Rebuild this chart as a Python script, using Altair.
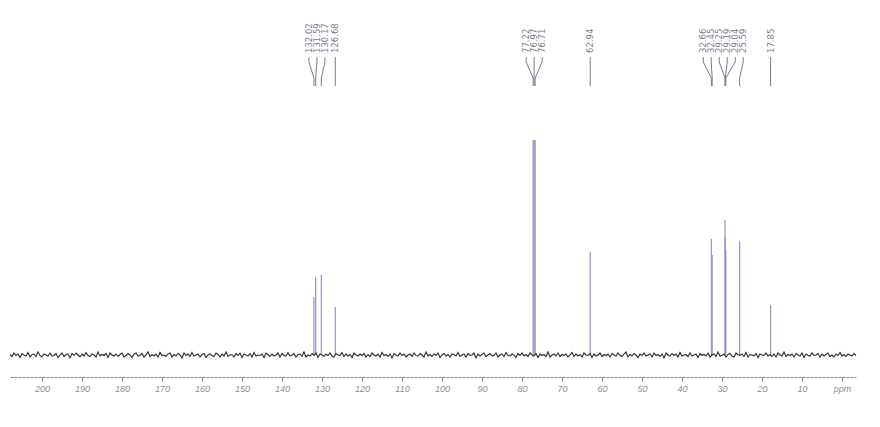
import altair as alt
import numpy as np
import pandas as pd

# ---- data ----
peak_ppm = [132.02, 131.59, 130.17, 126.68, 77.22, 76.97, 76.71, 62.94,
            32.66, 32.45, 29.25, 29.19, 29.04, 25.59, 17.85]
peak_height = [58, 78, 80, 48, 215, 215, 215, 103,
               116, 100, 135, 118, 105, 114, 50]

noise = [
    0.5, -1.5, 2, -0.5, 1, -2.5, 1.5, 0, -1, 2.5, -2, 0.5, 1, -1.5, 3, -0.5, -2, 1, 0, -1,
    2, -1, -0.5, 1.5, -2.5, 0, 2, -1.5, 0.5, 1, -3, 1.5, -0.5, 2, 0, -2, 1, -1, 2.5, -0.5,
    -1.5, 1, 0, -2, 3, -1, 0.5, -0.5, 1.5, -2.5, 2, 0, -1, 1, -1.5, 0.5, 2, -2, -0.5, 1.5,
    0, -2.5, 1, 2, -1, -0.5, 1.5, -2, 0, 3, -1.5, 0.5, -1, 1, -2, 2.5, -0.5, 0, -1.5, 1,
    2, -2, 0.5, -1, 1.5, 0, -3, 2, -0.5, 1, -1.5, 2.5, -1, 0, 1, -2, 0.5, 1.5, -2.5, 0,
    1, -0.5, -1.5, 2, 0.5, -2, 1, -1, 3, -1.5, 0, 0.5, -2, 1.5, -0.5, 2, -2.5, 1, 0, -1,
    1.5, -2, 2.5, -1, 0, -0.5, 1, -2.5, 2, 0.5, -1.5, 1, -1, 0, 2, -2, 1.5, -0.5, -1, 2.5,
    -1, 0, 1.5, -2, 0.5, 1, -1.5, 3, -2, 0, -1, 1.5, -0.5, 2, -2.5, 1, 0, -1.5, 1, -0.5,
    2, -1, -2, 1.5, 0, -0.5, 2.5, -1.5, 1, -1, 0.5, -2.5, 2, 0, -1, 1, -0.5, 1.5, -2, 0.5,
    -1.5, 2, 0, -1, 1, -2, 2.5, -0.5, 0.5, -1.5, 1, -3, 1.5, 0, -1, 2, -0.5, 1, -2, 0,
    1, -1.5, 2, -0.5, -1, 1.5, 0, -2, 3, -1, 0.5, -1.5, 1, -0.5, 2, -2.5, 0, 1.5, -1, 0.5,
    -2, 1, 0.5, -1, 2.5, -1.5, 0, 1, -2, 1.5, -0.5, 0, 2, -3, 1, -1, 0.5, 2, -1.5, 0,
    1.5, -1, -0.5, 2, -2, 0, 1, -1.5, 2.5, -0.5, -1, 1, 0, -2.5, 1.5, -0.5, 2, -1, 0.5, -1.5,
    2, 0, -1, 1.5, -2.5, 1, -0.5, 0.5, -1.5, 3, -2, 0, 1, -1, 2, -1.5, 0.5, -0.5, 1, -2,
    0, 2.5, -1.5, 1, -1, 0.5, -2, 2, 0, -0.5, 1.5, -2.5, 1, -1, 0, 2, -1.5, 0.5, -0.5, 1,
    -2, 1.5, 0, -1, 2, -0.5, -1.5, 1, 3, -2, 0.5, -1, 1.5, 0, -2.5, 1, -0.5, 2, -1, 0,
    1, -2, 2, -0.5, 0.5, -1.5, 1, -3, 2, 0, -1, 1.5, -0.5, 1, -2, 2.5, -1, 0, 0.5, -1.5,
    2, -1, 0, 1, -2.5, 1.5, -0.5, 0.5, -1, 2, -2, 0, 1, -1.5, 3, -1, -0.5, 1, -2, 0.5,
    1.5, -1, -2, 2, 0, -0.5, 1, -1.5, 2.5, -2, 0.5, 0, -1, 1.5, -2.5, 1, 0, -0.5, 2, -1,
    0.5, -1.5, 1, -2, 2, 0, -1, 3, -1.5, 0.5, -0.5, 1, -2, 1.5, 0, -1, 2, -2.5, 1, -0.5,
    -1, 2, -0.5, 0, 1.5, -2, 1, -1, 0.5, 2, -1.5, 0, -2, 1, -0.5, 2.5, -1, 0.5, -1.5, 1,
    0, -1, 1.5, -0.5,
]
noise_start_ppm = 208.0
noise_step_ppm = 0.5

axis_ticks = list(range(0, 201, 10))

# ---- tables ----
noise_df = pd.DataFrame({
    "ppm": noise_start_ppm - noise_step_ppm * np.arange(len(noise)),
    "v": noise,
})
peaks_df = pd.DataFrame({"ppm": peak_ppm, "h": peak_height})
peaks_df["zero"] = 0
peaks_df["label"] = [f"{p:.2f}" for p in peak_ppm]

# label layout: spread overlapping labels around their cluster mean
SEP = 2.0
order = sorted(range(len(peak_ppm)), key=lambda i: -peak_ppm[i])
clusters = [[i] for i in order]


def positions(cl):
    c = np.mean([peak_ppm[i] for i in cl])
    n = len(cl)
    return [c + SEP * ((n - 1) / 2 - k) for k in range(n)]


merged = True
while merged:
    merged = False
    for k in range(len(clusters) - 1):
        a, b = positions(clusters[k]), positions(clusters[k + 1])
        if a[-1] - b[0] < SEP:
            clusters[k] = clusters[k] + clusters[k + 1]
            del clusters[k + 1]
            merged = True
            break

label_pos = {}
for cl in clusters:
    for i, p in zip(cl, positions(cl)):
        label_pos[i] = p
peaks_df["lx"] = [label_pos[i] for i in range(len(peak_ppm))]

Y_L0, Y_L1, Y_L2, Y_L3 = 298, 293, 277, 269
lead_rows = []
for i in range(len(peak_ppm)):
    lx, px = label_pos[i], peak_ppm[i]
    for o, (x, y) in enumerate([(lx, Y_L0), (lx, Y_L1), (px, Y_L2), (px, Y_L3)]):
        lead_rows.append({"id": i, "o": o, "x": x, "y": y})
lead_df = pd.DataFrame(lead_rows)

xs = alt.Scale(domain=[208, -3.5], nice=False, zero=False)
ys = alt.Scale(domain=[-22, 347], nice=False, zero=False)

x_axis = alt.Axis(
    values=axis_ticks,
    labelExpr="datum.value == 0 ? 'ppm' : datum.label",
    domainDash=[3, 1], domainColor="#7e84a6", domainWidth=1,
    tickColor="#7e84a6", tickSize=4, ticks=True, grid=False,
    labelColor="#8a8d9c", labelFont="Liberation Sans", labelFontStyle="italic",
    labelFontSize=9, labelPadding=3, title=None,
)

peaks = alt.Chart(peaks_df).mark_rule(color="#9a90be", strokeWidth=1.2).encode(
    x=alt.X("ppm:Q", scale=xs, axis=x_axis),
    y=alt.Y("zero:Q", scale=ys, axis=None),
    y2="h:Q",
)

base = alt.Chart(noise_df).mark_line(color="#2b2b2b", strokeWidth=1.1).encode(
    x=alt.X("ppm:Q", scale=xs),
    y=alt.Y("v:Q", scale=ys),
)

leads = alt.Chart(lead_df).mark_line(color="#7d7a92", strokeWidth=1).encode(
    x=alt.X("x:Q", scale=xs),
    y=alt.Y("y:Q", scale=ys),
    detail="id:N",
    order="o:Q",
)

labels = alt.Chart(peaks_df).mark_text(
    angle=270, align="left", baseline="middle", fontSize=8.5,
    font="DejaVu Sans", color="#7b7b8c",
).encode(
    x=alt.X("lx:Q", scale=xs),
    y=alt.value(53 - 8),
    text="label:N",
)

chart = alt.layer(peaks, base, leads, labels).properties(
    width=846, height=369,
    autosize=alt.AutoSizeParams(type="none"),
    padding={"left": 2, "top": 0, "right": 16, "bottom": 30},
    background="white",
).configure_view(stroke=None)

chart.save("out.html", embed_options={"renderer": "svg", "actions": False})
